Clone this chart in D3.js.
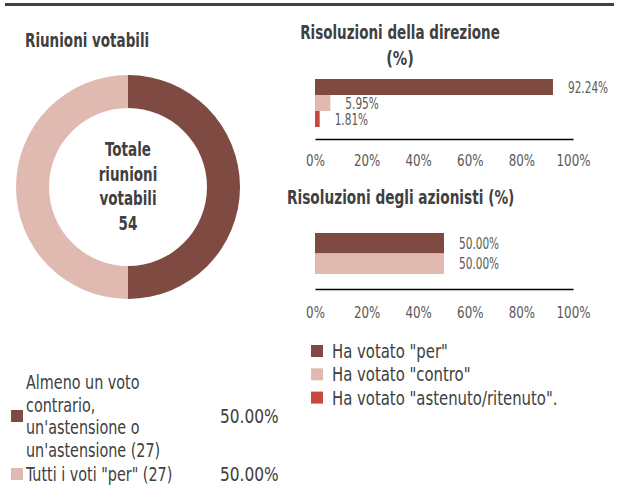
<!DOCTYPE html>
<html>
<head>
<meta charset="utf-8">
<script src="https://cdn.jsdelivr.net/npm/d3@7"></script>
<style>
  body { margin: 0; background: #fff; }
  svg text { font-family: "DejaVu Sans Condensed", "DejaVu Sans", sans-serif; }
</style>
</head>
<body>
<div id="chart"></div>
<script>
// donut data
const donutLabels = [["Almeno un voto", "contrario,", "un'astensione o", "un'astensione (27)"], ["Tutti i voti \"per\" (27)"]]
const donutValues = [27, 27]
const donutPct = ["50.00%", "50.00%"]

// bar charts
const seriesNames = ["Ha votato \"per\"", "Ha votato \"contro\"", "Ha votato \"astenuto/ritenuto\"."]
const direzioneValues = [92.24, 5.95, 1.81]
const azionistiValues = [50.00, 50.00]
const tickValues = [0, 20, 40, 60, 80, 100]

const colors = ["#7e4a41", "#e0b9b0", "#c9473f"]
const textCol = "#404040"
const tickCol = "#595959"

const width = 619, height = 497

const svg = d3.select("#chart").append("svg")
    .attr("width", width).attr("height", height)

// squeeze text horizontally to imitate the condensed font of the original
const condense = (sel, f) => sel.each(function () {
    const len = this.getComputedTextLength()
    d3.select(this).attr("textLength", len * f).attr("lengthAdjust", "spacingAndGlyphs")
})

// top rule
svg.append("rect").attr("x", 5).attr("y", 3).attr("width", 609).attr("height", 3).attr("fill", "#404040")

// ---- donut ----
svg.append("text").attr("x", 25).attr("y", 47)
    .attr("font-size", 20).attr("font-weight", "bold").attr("fill", textCol)
    .text("Riunioni votabili").call(condense, 0.75)

const pie = d3.pie().sort(null)
const arc = d3.arc().innerRadius(79).outerRadius(112)
const donut = svg.append("g").attr("transform", "translate(128,187)")
donut.selectAll("path")
    .data(pie(donutValues))
    .enter().append("path")
    .attr("d", arc)
    .attr("fill", (d, i) => colors[i])

const centerLines = ["Totale", "riunioni", "votabili", d3.sum(donutValues)]
donut.selectAll("text.center")
    .data(centerLines)
    .enter().append("text")
    .attr("class", "center")
    .attr("text-anchor", "middle")
    .attr("y", (d, i) => -38 + i * 24.7 + 7)
    .attr("font-size", 20).attr("font-weight", "bold").attr("fill", textCol)
    .text(d => d).call(condense, 0.75)

// donut legend
const legRows = [416, 474]
donutLabels.forEach((lines, i) => {
    const cy = legRows[i]
    svg.append("rect").attr("x", 11).attr("y", cy - 6).attr("width", 12).attr("height", 12).attr("fill", colors[i])
    const top = cy - (lines.length - 1) * 22.7 / 2
    lines.forEach((l, j) => {
        svg.append("text").attr("x", 26).attr("y", top + j * 22.7 + 7)
            .attr("font-size", 19).attr("fill", textCol).text(l).call(condense, 0.84)
    })
    svg.append("text").attr("x", 220).attr("y", cy + 7)
        .attr("font-size", 19).attr("fill", textCol).text(donutPct[i]).call(condense, 0.9)
})

// ---- bar charts ----
const x = d3.scaleLinear().domain([0, 100]).range([315, 573])

function barChart(values, y0, bandH, axisY, tickPad) {
    const g = svg.append("g")
    const yScale = d3.scaleBand().domain(d3.range(values.length)).range([y0, y0 + bandH * values.length])
    g.selectAll("rect")
        .data(values)
        .enter().append("rect")
        .attr("x", x(0))
        .attr("y", (d, i) => yScale(i))
        .attr("width", d => x(d) - x(0))
        .attr("height", yScale.bandwidth())
        .attr("fill", (d, i) => colors[i])
    g.selectAll("text.val")
        .data(values)
        .enter().append("text")
        .attr("class", "val")
        .attr("x", d => x(d) + 15)
        .attr("y", (d, i) => yScale(i) + yScale.bandwidth() / 2 + 5.5)
        .attr("font-size", 15).attr("fill", tickCol)
        .text(d => d.toFixed(2) + "%").call(condense, 0.78)
    const axis = g.append("g").attr("transform", `translate(0,${axisY})`)
        .call(d3.axisBottom(x).tickValues(tickValues).tickFormat(d => d + "%").tickSize(0).tickPadding(tickPad))
    axis.select(".domain").attr("stroke", "#000").attr("stroke-width", 1.5)
    axis.selectAll("text").attr("font-size", 15).attr("fill", tickCol)
        .style("font-family", "\"DejaVu Sans Condensed\", \"DejaVu Sans\", sans-serif")
        .call(condense, 0.88)
}

svg.append("text").attr("x", 400).attr("y", 39).attr("text-anchor", "middle")
    .attr("font-size", 20).attr("font-weight", "bold").attr("fill", textCol)
    .text("Risoluzioni della direzione").call(condense, 0.75)
svg.append("text").attr("x", 400).attr("y", 65).attr("text-anchor", "middle")
    .attr("font-size", 20).attr("font-weight", "bold").attr("fill", textCol)
    .text("(%)").call(condense, 0.8)
barChart(direzioneValues, 79, 16, 139, 16)

svg.append("text").attr("x", 287).attr("y", 204)
    .attr("font-size", 20).attr("font-weight", "bold").attr("fill", textCol)
    .text("Risoluzioni degli azionisti (%)").call(condense, 0.76)
barChart(azionistiValues, 233, 20.5, 289, 18)

// series legend
seriesNames.forEach((s, i) => {
    const cy = 351 + i * 23.3
    svg.append("rect").attr("x", 311).attr("y", cy - 6).attr("width", 12).attr("height", 12).attr("fill", colors[i])
    svg.append("text").attr("x", 332).attr("y", cy + 7)
        .attr("font-size", 19).attr("fill", textCol).text(s).call(condense, 0.87)
})
</script>
</body>
</html>
